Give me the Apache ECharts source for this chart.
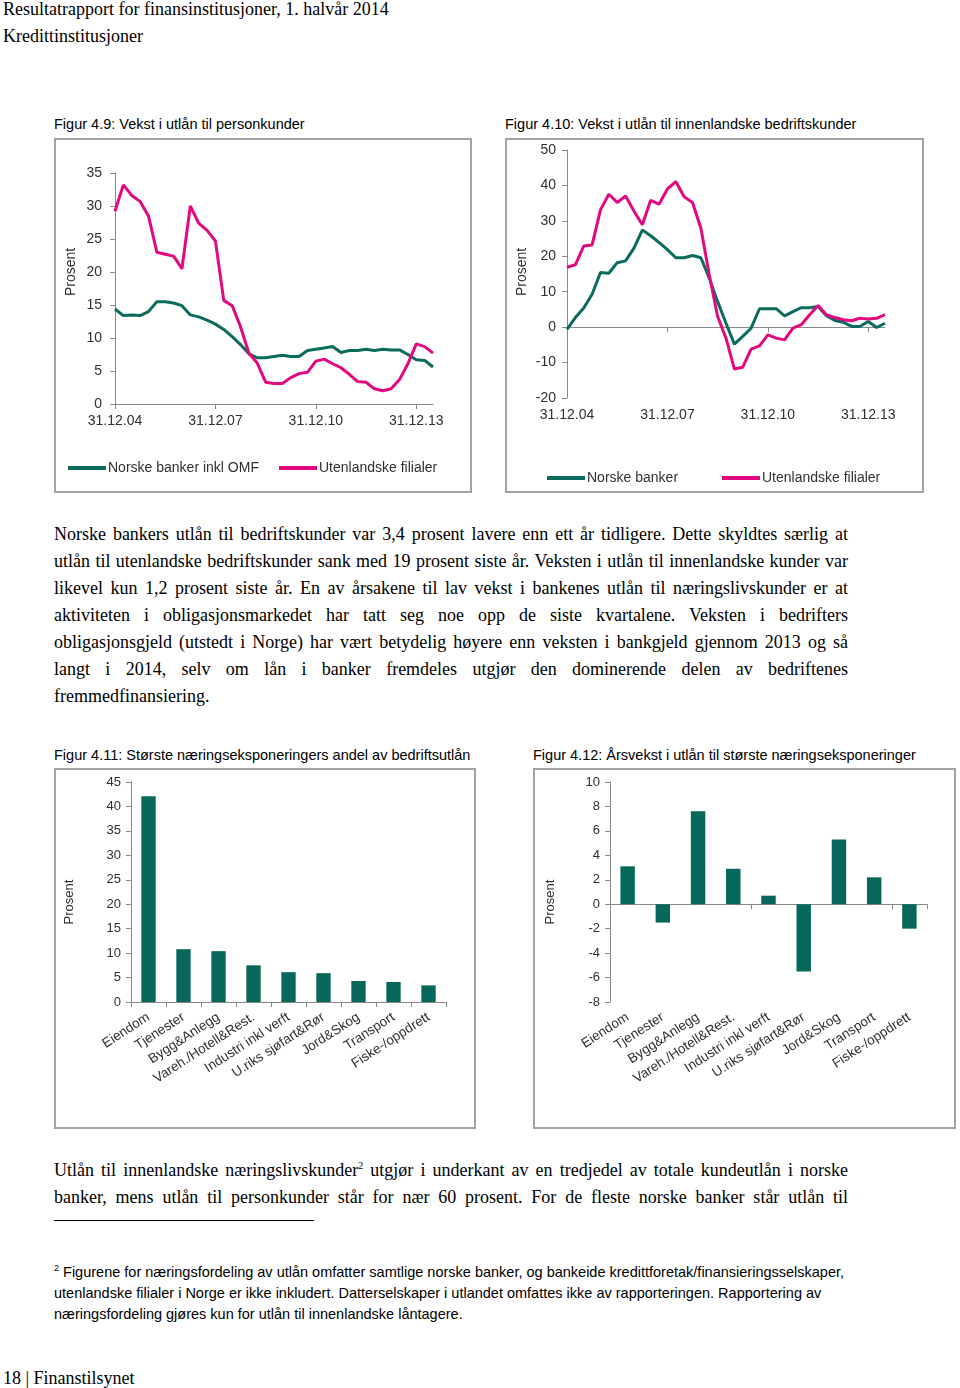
<!DOCTYPE html>
<html><head><meta charset="utf-8">
<script src="https://cdn.jsdelivr.net/npm/echarts@6/dist/echarts.min.js"></script>
<style>
body{margin:0;width:960px;height:1388px;position:relative;background:#fff;overflow:hidden}
.t{position:absolute;white-space:nowrap;color:#000;line-height:20px;height:20px}
.serif{font-family:"Liberation Serif","Times New Roman",serif;font-size:18px}
.sans{font-family:"Liberation Sans",Arial,sans-serif;font-size:14.5px}
.foot{font-family:"Liberation Sans",Arial,sans-serif;font-size:14.5px}
.j{width:794px;text-align:justify;text-align-last:justify}
.box{position:absolute;border:2px solid #a3a3a3;box-sizing:border-box}
.ch{position:absolute}
sup{font-size:10px;line-height:0}
</style></head>
<body>
<div class="t serif" style="left:3px;top:-1px">Resultatrapport for finansinstitusjoner, 1. halvår 2014</div>
<div class="t serif" style="left:3px;top:26px">Kredittinstitusjoner</div>

<div class="t sans" style="left:54px;top:114px">Figur 4.9: Vekst i utlån til personkunder</div>
<div class="t sans" style="left:505px;top:114px">Figur 4.10: Vekst i utlån til innenlandske bedriftskunder</div>
<div class="box" style="left:54px;top:138px;width:418px;height:355px"></div>
<div class="box" style="left:505px;top:138px;width:419px;height:355px"></div>
<div id="c1" class="ch" style="left:54px;top:138px;width:418px;height:355px"></div>
<div id="c2" class="ch" style="left:505px;top:138px;width:419px;height:355px"></div>

<div class="t serif j" style="left:54px;top:524px">Norske bankers utlån til bedriftskunder var 3,4 prosent lavere enn ett år tidligere. Dette skyldtes særlig at</div>
<div class="t serif j" style="left:54px;top:551px">utlån til utenlandske bedriftskunder sank med 19 prosent siste år. Veksten i utlån til innenlandske kunder var</div>
<div class="t serif j" style="left:54px;top:578px">likevel kun 1,2 prosent siste år. En av årsakene til lav vekst i bankenes utlån til næringslivskunder er at</div>
<div class="t serif j" style="left:54px;top:605px">aktiviteten i obligasjonsmarkedet har tatt seg noe opp de siste kvartalene. Veksten i bedrifters</div>
<div class="t serif j" style="left:54px;top:632px">obligasjonsgjeld (utstedt i Norge) har vært betydelig høyere enn veksten i bankgjeld gjennom 2013 og så</div>
<div class="t serif j" style="left:54px;top:659px">langt i 2014, selv om lån i banker fremdeles utgjør den dominerende delen av bedriftenes</div>
<div class="t serif" style="left:54px;top:686px">fremmedfinansiering.</div>

<div class="t sans" style="left:54px;top:745px">Figur 4.11: Største næringseksponeringers andel av bedriftsutlån</div>
<div class="t sans" style="left:533px;top:745px">Figur 4.12: Årsvekst i utlån til største næringseksponeringer</div>
<div class="box" style="left:54px;top:768px;width:422px;height:361px"></div>
<div class="box" style="left:533px;top:768px;width:423px;height:361px"></div>
<div id="c3" class="ch" style="left:54px;top:768px;width:422px;height:361px"></div>
<div id="c4" class="ch" style="left:533px;top:768px;width:423px;height:361px"></div>

<div class="t serif j" style="left:54px;top:1160px">Utlån til innenlandske næringslivskunder<sup>2</sup> utgjør i underkant av en tredjedel av totale kundeutlån i norske</div>
<div class="t serif j" style="left:54px;top:1187px">banker, mens utlån til personkunder står for nær 60 prosent. For de fleste norske banker står utlån til</div>
<div style="position:absolute;left:54px;top:1220px;width:260px;height:1px;background:#000"></div>

<div class="t foot" style="left:54px;top:1262px"><sup style="font-size:9px">2</sup> Figurene for næringsfordeling av utlån omfatter samtlige norske banker, og bankeide kredittforetak/finansieringsselskaper,</div>
<div class="t foot" style="left:54px;top:1283px">utenlandske filialer i Norge er ikke inkludert. Datterselskaper i utlandet omfattes ikke av rapporteringen. Rapportering av</div>
<div class="t foot" style="left:54px;top:1304px">næringsfordeling gjøres kun for utlån til innenlandske låntagere.</div>

<div class="t serif" style="left:3px;top:1368px">18 | Finanstilsynet</div>

<script>
// shrink any justified line whose natural width exceeds the column
(function(){
  var els = document.querySelectorAll('.j, .foot');
  for (var i=0;i<els.length;i++){
    var el = els[i];
    var maxW = el.classList.contains('j') ? 794 : 800;
    var probe = document.createElement('span');
    probe.style.whiteSpace='nowrap';
    probe.innerHTML = el.innerHTML;
    el.innerHTML=''; el.appendChild(probe);
    var w = probe.getBoundingClientRect().width;
    el.innerHTML = probe.innerHTML;
    if (w > maxW){
      var n = el.textContent.length;
      el.style.letterSpacing = (-(w-maxW+2)/n)+'px';
    }
  }
})();

var quarters = ["31.12.04","31.03.05","30.06.05","30.09.05","31.12.05","31.03.06","30.06.06","30.09.06","31.12.06","31.03.07","30.06.07","30.09.07","31.12.07","31.03.08","30.06.08","30.09.08","31.12.08","31.03.09","30.06.09","30.09.09","31.12.09","31.03.10","30.06.10","30.09.10","31.12.10","31.03.11","30.06.11","30.09.11","31.12.11","31.03.12","30.06.12","30.09.12","31.12.12","31.03.13","30.06.13","30.09.13","31.12.13","31.03.14","30.06.14"];
var personNorske = [14.4,13.4,13.5,13.4,14.0,15.5,15.5,15.3,14.9,13.5,13.2,12.7,12.1,11.3,10.2,9.0,7.6,7.0,7.0,7.2,7.4,7.2,7.2,8.1,8.3,8.5,8.7,7.8,8.1,8.1,8.3,8.1,8.3,8.2,8.2,7.5,6.7,6.6,5.6];
var personUtenl = [29.2,33.2,31.6,30.7,28.5,23.0,22.7,22.4,20.5,30.0,27.4,26.3,24.7,15.7,14.9,11.7,7.7,6.2,3.3,3.1,3.1,4.0,4.6,4.8,6.5,6.8,6.1,5.5,4.5,3.4,3.3,2.3,2.0,2.3,3.7,6.1,9.1,8.7,7.7];
var bedriftNorske = [-0.6,2.7,5.4,9.3,15.4,15.2,18.2,18.7,22.3,27.4,25.8,23.9,21.9,19.6,19.6,20.2,19.6,13.8,7.2,1.1,-4.8,-2.6,-0.3,5.2,5.2,5.2,3.2,4.4,5.5,5.5,5.8,3.2,1.9,1.4,0.2,0.2,1.6,-0.1,1.1];
var bedriftUtenl = [16.9,17.6,22.9,23.2,33.1,37.5,35.2,37.0,32.8,28.9,35.8,34.7,39.0,41.1,36.8,35.2,27.9,14.8,3.0,-3.1,-11.8,-11.3,-6.2,-5.3,-2.2,-3.1,-3.6,-0.3,0.7,3.5,6.1,3.5,2.7,2.1,1.8,2.5,2.3,2.5,3.5];
var naeringer = ["Eiendom","Tjenester","Bygg&Anlegg","Vareh./Hotell&Rest.","Industri inkl verft","U.riks sjøfart&Rør","Jord&Skog","Transport","Fiske-/oppdrett"];
var andel = [42.1,10.8,10.4,7.5,6.1,5.9,4.3,4.1,3.4];
var arsvekst = [3.1,-1.5,7.6,2.9,0.7,-5.5,5.3,2.2,-2.0];

var GREEN = "#0b6b5d", MAG = "#e2087f", BAR = "#07675a", AX = "#8a8a8a", LBL = "#303030";
var FONT = "Liberation Sans";

function prosent(x, y, size){
  return {type:"text", x:x, y:y, rotation:Math.PI/2,
    style:{text:"Prosent", font:size+"px '"+FONT+"'", fill:LBL, textAlign:"center", textVerticalAlign:"middle", align:"center", verticalAlign:"middle"}};
}
function legendItem(name, left, top, color){
  return {data:[name], left:left, top:top, icon:"rect", itemWidth:38, itemHeight:4,
    textStyle:{fontFamily:FONT, fontSize:14, color:LBL, padding:[0,0,0,-3]}, itemStyle:{color:color}, selectedMode:false};
}
function yAx(min,max,iv,size,margin){
  return {type:"value", min:min, max:max, interval:iv,
    axisLine:{show:true, lineStyle:{color:AX}}, axisTick:{show:true, length:5, lineStyle:{color:AX}},
    splitLine:{show:false}, axisLabel:{fontFamily:FONT, fontSize:size, color:LBL, margin:margin}};
}

// Figure 4.9
var c1 = echarts.init(document.getElementById("c1"));
c1.setOption({
  animation:false,
  grid:{left:61, top:35, right:39, bottom:89},
  legend:[legendItem("Norske banker inkl OMF",9,318,GREEN), legendItem("Utenlandske filialer",220,318,MAG)],
  graphic:[prosent(17,134,14)],
  xAxis:{type:"category", data:quarters, boundaryGap:false,
    axisLine:{lineStyle:{color:AX}}, axisTick:{show:true, interval:11, length:5, lineStyle:{color:AX}},
    axisLabel:{interval:11, fontFamily:FONT, fontSize:14, color:LBL, margin:10}},
  yAxis:yAx(0,35,5,14,13),
  series:[
    {name:"Norske banker inkl OMF", type:"line", data:personNorske, symbol:"none", lineStyle:{width:3, color:GREEN}, itemStyle:{color:GREEN}},
    {name:"Utenlandske filialer", type:"line", data:personUtenl, symbol:"none", lineStyle:{width:3, color:MAG}, itemStyle:{color:MAG}}
  ]
});

// Figure 4.10
var c2 = echarts.init(document.getElementById("c2"));
c2.setOption({
  animation:false,
  grid:{left:62, top:12, right:39, bottom:95},
  legend:[legendItem("Norske banker",37,328,GREEN), legendItem("Utenlandske filialer",212,328,MAG)],
  graphic:[prosent(17,134,14)],
  xAxis:[
    {type:"category", data:quarters, boundaryGap:false, position:"bottom",
      axisLine:{show:false, onZero:false}, axisTick:{show:false},
      axisLabel:{interval:11, fontFamily:FONT, fontSize:14, color:LBL, margin:10}},
    {type:"category", data:quarters, boundaryGap:false, position:"bottom",
      axisLine:{show:true, onZero:true, lineStyle:{color:AX}}, axisTick:{show:true, interval:11, length:5, lineStyle:{color:AX}},
      axisLabel:{show:false}}
  ],
  yAxis:yAx(-20,50,10,14,11),
  series:[
    {name:"Norske banker", type:"line", data:bedriftNorske, symbol:"none", lineStyle:{width:3, color:GREEN}, itemStyle:{color:GREEN}},
    {name:"Utenlandske filialer", type:"line", data:bedriftUtenl, symbol:"none", lineStyle:{width:3, color:MAG}, itemStyle:{color:MAG}}
  ]
});

// Figure 4.11
var c3 = echarts.init(document.getElementById("c3"));
c3.setOption({
  animation:false,
  grid:{left:77, top:14, right:30, bottom:127},
  graphic:[prosent(15,134,13)],
  xAxis:{type:"category", data:naeringer,
    axisLine:{lineStyle:{color:AX}}, axisTick:{show:true, length:5, lineStyle:{color:AX}},
    axisLabel:{interval:0, rotate:33, fontFamily:FONT, fontSize:13.5, color:LBL, margin:14}},
  yAxis:yAx(0,45,5,13,10),
  series:[{type:"bar", data:andel, barWidth:"41%", itemStyle:{color:BAR}}]
});

// Figure 4.12
var c4 = echarts.init(document.getElementById("c4"));
c4.setOption({
  animation:false,
  grid:{left:77, top:14, right:29, bottom:127},
  graphic:[prosent(17,134,13)],
  xAxis:[
    {type:"category", data:naeringer, position:"bottom",
      axisLine:{show:false, onZero:false}, axisTick:{show:false},
      axisLabel:{interval:0, rotate:33, fontFamily:FONT, fontSize:13.5, color:LBL, margin:14}},
    {type:"category", data:naeringer, position:"bottom",
      axisLine:{show:true, onZero:true, lineStyle:{color:AX}}, axisTick:{show:true, length:5, lineStyle:{color:AX}},
      axisLabel:{show:false}}
  ],
  yAxis:yAx(-8,10,2,13,10),
  series:[{type:"bar", data:arsvekst, barWidth:"41%", itemStyle:{color:BAR}}]
});
</script>
</body></html>
